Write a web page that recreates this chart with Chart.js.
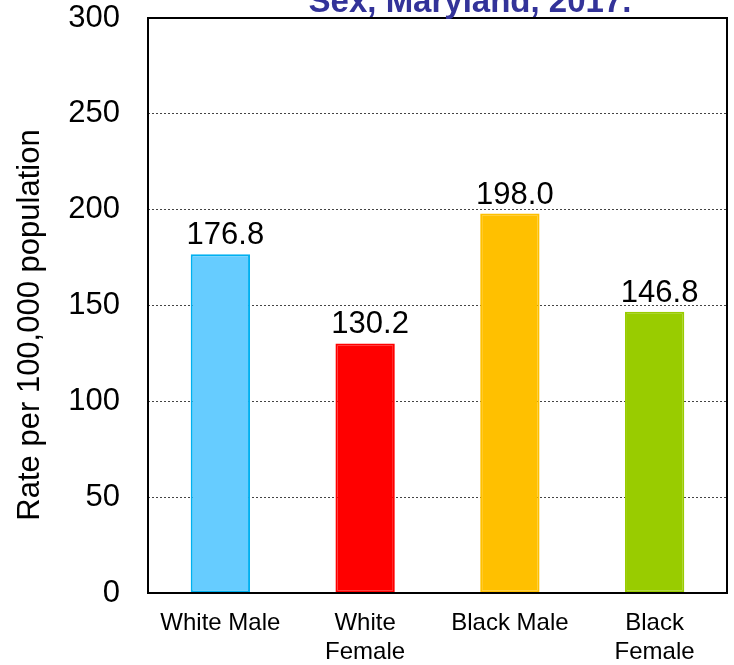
<!DOCTYPE html>
<html>
<head>
<meta charset="utf-8">
<script src="https://cdn.jsdelivr.net/npm/chart.js@4/dist/chart.umd.min.js"></script>
<style>
html,body{margin:0;padding:0;background:#fff;}
#wrap{width:734px;height:665px;position:relative;}
</style>
</head>
<body>
<div id="wrap"><canvas id="c" width="734" height="665"></canvas></div>
<script>
const categories = [["White Male"], ["White", "Female"], ["Black Male"], ["Black", "Female"]];
const rates = [176.8, 130.2, 198.0, 146.8];
const fillColors = ["#66CCFF", "#FF0000", "#FFC000", "#99CC00"];
const edgeColors = ["#00B0F0", "#FF0000", "#FFC000", "#99CC00"];
const yTicks = [0, 50, 100, 150, 200, 250, 300];
const titleText = "Sex, Maryland, 2017.";
const yTitle = "Rate per 100,000 population";
const FONT = "'Liberation Sans', Arial, sans-serif";

const framePlugin = {
  id: 'frame',
  afterDatasetsDraw(chart) {
    const {ctx, chartArea: a} = chart;
    ctx.save();
    ctx.strokeStyle = '#000';
    ctx.lineWidth = 2;
    ctx.strokeRect(a.left, a.top, a.right - a.left, a.bottom - a.top);
    // value labels
    const meta = chart.getDatasetMeta(0);
    ctx.fillStyle = '#000';
    ctx.font = '31px ' + FONT;
    ctx.textAlign = 'center';
    ctx.textBaseline = 'alphabetic';
    meta.data.forEach((bar, i) => {
      ctx.fillText(rates[i].toFixed(1), bar.x + 5, bar.y - 10);
    });
    // y axis title
    ctx.save();
    ctx.translate(39, 325);
    ctx.rotate(-Math.PI / 2);
    ctx.font = '31px ' + FONT;
    ctx.fillText(yTitle, 0, 0);
    ctx.restore();
    // chart title (cut off at top)
    ctx.fillStyle = '#333399';
    ctx.font = 'bold 33px ' + FONT;
    ctx.fillText(titleText, 470, 12);
    ctx.restore();
  }
};

new Chart(document.getElementById('c'), {
  type: 'bar',
  data: {
    labels: categories,
    datasets: [{
      data: rates,
      backgroundColor: fillColors,
      borderColor: edgeColors,
      borderWidth: 2,
      borderSkipped: false,
      barPercentage: 0.41,
      categoryPercentage: 1.0
    }]
  },
  options: {
    responsive: false,
    animation: false,
    layout: {padding: {top: 18, right: 7, left: 0, bottom: 0}},
    plugins: {legend: {display: false}, tooltip: {enabled: false}, title: {display: false}},
    scales: {
      x: {
        grid: {display: false, drawTicks: false},
        border: {display: false},
        ticks: {color: '#000', font: {family: FONT, size: 24}, padding: 16, maxRotation: 0, autoSkip: false},
        afterFit(s) { s.height = 72; s.paddingLeft = 0; s.paddingRight = 0; }
      },
      y: {
        min: 0, max: 300,
        afterBuildTicks(s) { s.ticks = yTicks.map(v => ({value: v})); },
        grid: {
          drawTicks: false,
          color: (c) => (c.tick && (c.tick.value === 0 || c.tick.value === 300)) ? 'rgba(0,0,0,0)' : '#444',
          lineWidth: 1,
        },
        border: {display: false, dash: [2, 2]},
        ticks: {color: '#000', font: {family: FONT, size: 31}, padding: 28},
        title: {display: false},
        afterFit(s) { s.width = 148; s.paddingTop = 0; s.paddingBottom = 0; }
      }
    }
  },
  plugins: [framePlugin]
});
</script>
</body>
</html>
